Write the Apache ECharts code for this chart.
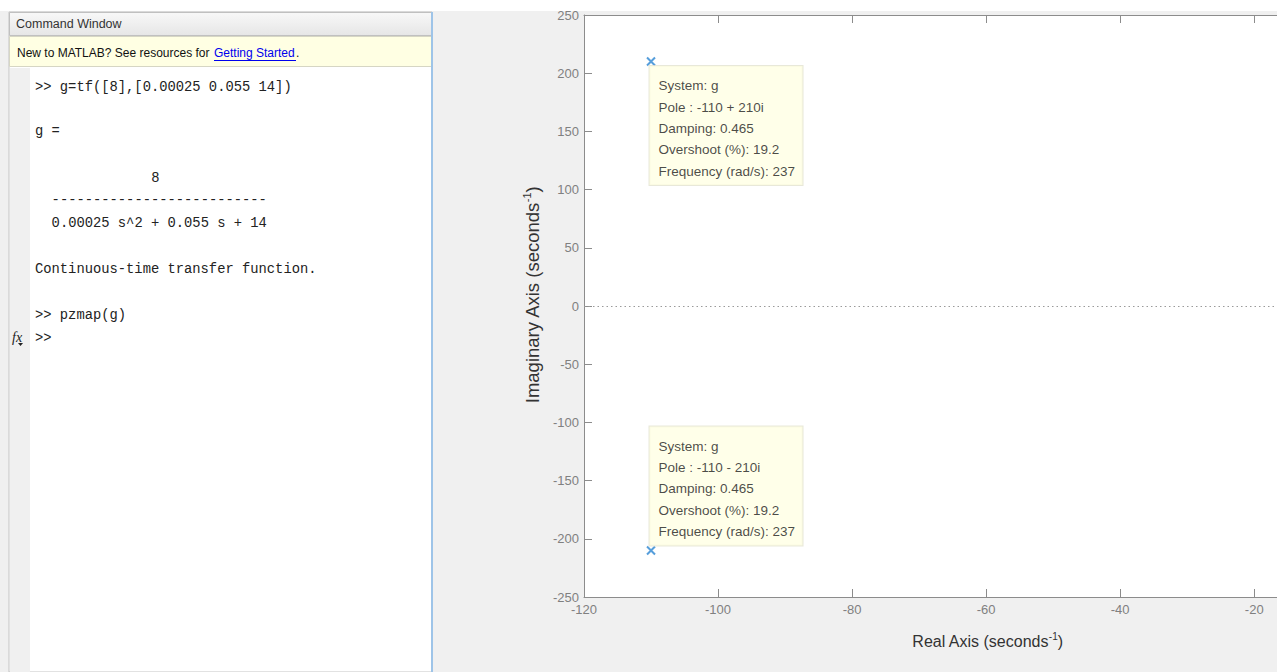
<!DOCTYPE html>
<html>
<head>
<meta charset="utf-8">
<script src="https://cdn.jsdelivr.net/npm/echarts@6/dist/echarts.min.js"></script>
<style>html,body{margin:0;padding:0;background:#f0f0f0;}#c{width:1277px;height:672px;}</style>
</head>
<body>
<div id="c"></div>
<script>
// ---- data ----
var poleReal = [-110, -110];
var poleImag = [210, -210];
var poleLabels = ['-110 + 210i', '-110 - 210i'];
var damping = [0.465, 0.465];
var overshoot = [19.2, 19.2];
var frequency = [237, 237];
var systemName = 'g';
// visible x range is cut by the window edge at about -16.6
var xTicks = {min: -120, max: -16.6, interval: 20};
var yTicks = {min: -250, max: 250, interval: 50};
// command window lines: [column, row y, text]
var cmdLines = [
  [0, 87, '>> g=tf([8],[0.00025 0.055 14])'],
  [0, 131, 'g ='],
  [14, 178, '8'],
  [2, 200, '--------------------------'],
  [2, 223, '0.00025 s^2 + 0.055 s + 14'],
  [0, 269, 'Continuous-time transfer function.'],
  [0, 315, '>> pzmap(g)'],
  [0, 338, '>>']
];

var chart = echarts.init(document.getElementById('c'), null, {renderer: 'svg'});
var narrow = "'Liberation Sans Narrow', 'Liberation Sans', Arial, sans-serif";
var sans = "'Liberation Sans', Arial, sans-serif";
var mono = "'Liberation Mono', 'Courier New', monospace";

var graphics = [
  {type: 'rect', shape: {x: 0, y: 0, width: 1277, height: 11}, style: {fill: '#ffffff'}, z: -10},
  {type: 'rect', shape: {x: 9, y: 12, width: 423, height: 660}, style: {fill: '#ffffff', stroke: '#c4c4c4', lineWidth: 1}, z: -5},
  {type: 'rect', shape: {x: 10, y: 68, width: 20, height: 604}, style: {fill: '#f0f0f0'}, z: -4},
  {type: 'rect', shape: {x: 9.5, y: 12.5, width: 422, height: 23}, style: {
    fill: {type: 'linear', x: 0, y: 0, x2: 0, y2: 1, colorStops: [{offset: 0, color: '#f8f8f8'}, {offset: 1, color: '#e6e6e6'}]},
    stroke: '#c0c0c0', lineWidth: 1}, z: -4},
  {type: 'text', x: 16, y: 24, style: {text: 'Command Window', fill: '#333', font: '12.5px ' + sans, textVerticalAlign: 'middle'}},
  {type: 'rect', shape: {x: 9.5, y: 36.5, width: 422, height: 30}, style: {fill: '#ffffe3', stroke: '#d6d6c4', lineWidth: 1}, z: -4},
  {type: 'text', x: 17, y: 53, style: {text: 'New to MATLAB? See resources for ', fill: '#111', font: '12px ' + sans, textVerticalAlign: 'middle'}},
  {type: 'text', x: 214, y: 53, style: {text: 'Getting Started', fill: '#0000ee', font: '12px ' + sans, textVerticalAlign: 'middle'}},
  {type: 'line', shape: {x1: 214, y1: 60.5, x2: 296, y2: 60.5}, style: {stroke: '#0000ee', lineWidth: 1}},
  {type: 'text', x: 296, y: 53, style: {text: '.', fill: '#111', font: '12px ' + sans, textVerticalAlign: 'middle'}},
  {type: 'rect', shape: {x: 431, y: 12, width: 2, height: 660}, style: {fill: '#9ec4e8'}, z: -3},
  {type: 'text', x: 12, y: 337, style: {text: 'fx', fill: '#222', font: 'italic 14px "Liberation Serif", "DejaVu Serif", serif', textVerticalAlign: 'middle'}},
  {type: 'polygon', shape: {points: [[18, 343], [23, 343], [20.5, 346]]}, style: {fill: '#222'}}
];
cmdLines.forEach(function (l) {
  graphics.push({type: 'text', x: 35 + l[0] * 8.3, y: l[1], style: {text: l[2], fill: '#222', font: '13.8px ' + mono, textVerticalAlign: 'middle'}});
});

var data = poleReal.map(function (r, i) {
  var txt = ['System: ' + systemName, 'Pole : ' + poleLabels[i], 'Damping: ' + damping[i],
             'Overshoot (%): ' + overshoot[i], 'Frequency (rad/s): ' + frequency[i]].join('\n');
  return {
    value: [r, poleImag[i]],
    label: {
      show: true,
      formatter: txt,
      position: i === 0 ? [3.5, 9.5] : [3.5, 0],
      align: 'left',
      verticalAlign: i === 0 ? 'top' : 'bottom',
      color: '#1a1a1a',
      fontFamily: sans,
      fontSize: 13.5,
      lineHeight: 21.4,
      backgroundColor: '#ffffe3',
      borderColor: '#e2e2d0',
      borderWidth: 1,
      padding: [9, 4, 3, 9],
      width: 140
    }
  };
});

var axisLabelStyle = {color: '#808080', fontFamily: narrow, fontSize: 13};
function nameRich(size) {
  return {
    n: {fontFamily: sans, fontSize: size, color: '#333', lineHeight: size + 4},
    s: {fontFamily: sans, fontSize: Math.round(size * 0.62), color: '#333', verticalAlign: 'top', lineHeight: Math.round(size * 0.62)}
  };
}

chart.setOption({
  backgroundColor: '#f0f0f0',
  animation: false,
  graphic: graphics,
  grid: {left: 584, top: 15, right: 0, bottom: 75, show: true, backgroundColor: '#ffffff', borderWidth: 0, containLabel: false},
  xAxis: [{
    type: 'value', min: xTicks.min, max: xTicks.max, interval: xTicks.interval, position: 'bottom',
    axisLine: {onZero: false, lineStyle: {color: '#8c8c8c'}},
    axisTick: {inside: true, length: 8, lineStyle: {color: '#8c8c8c'}},
    axisLabel: Object.assign({margin: 6, showMaxLabel: false}, axisLabelStyle),
    splitLine: {show: false},
    name: '{n|Real Axis (seconds}{s|-1}{n|)}', nameLocation: 'middle', nameGap: 34,
    nameTextStyle: {rich: nameRich(16), padding: [0, 0, 0, 114]}
  }, {
    type: 'value', min: xTicks.min, max: xTicks.max, interval: xTicks.interval, position: 'top',
    axisLine: {onZero: false, lineStyle: {color: '#8c8c8c'}},
    axisTick: {inside: true, length: 8, lineStyle: {color: '#8c8c8c'}},
    axisLabel: {show: false}, splitLine: {show: false}
  }],
  yAxis: [{
    type: 'value', min: yTicks.min, max: yTicks.max, interval: yTicks.interval,
    axisLine: {show: true, onZero: false, lineStyle: {color: '#8c8c8c'}},
    axisTick: {show: true, inside: true, length: 8, lineStyle: {color: '#8c8c8c'}},
    axisLabel: Object.assign({margin: 5}, axisLabelStyle),
    splitLine: {show: false},
    name: '{n|Imaginary Axis (seconds}{s|-1}{n|)}', nameLocation: 'middle', nameGap: 31, nameRotate: 90,
    nameTextStyle: {rich: nameRich(18.5), padding: [0, 0, 0, 22]}
  }],
  series: [{
    type: 'scatter',
    data: data,
    symbol: 'path://M0,0L10,10M10,0L0,10',
    symbolSize: 8,
    itemStyle: {color: 'rgba(0,0,0,0)', borderColor: '#2c86d2', borderWidth: 2},
    emphasis: {disabled: true},
    markLine: {
      silent: true, symbol: ['none', 'none'], label: {show: false},
      lineStyle: {type: [1.5, 3], color: '#9a9a9a', width: 1},
      data: [{yAxis: 0}]
    },
    z: 5
  }]
});
</script>
</body>
</html>
